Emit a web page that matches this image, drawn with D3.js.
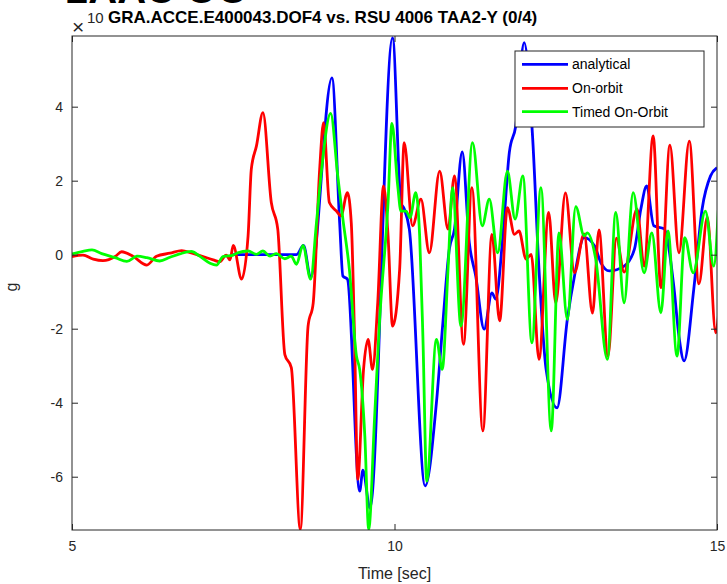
<!DOCTYPE html>
<html><head><meta charset="utf-8">
<script src="https://cdn.jsdelivr.net/npm/d3@7/dist/d3.min.js"></script>
<style>
body{margin:0;background:#fff}
svg{display:block}
text{font-family:"Liberation Sans",Arial,Helvetica,sans-serif;fill:#262626}
</style>
</head><body>
<svg id="c" width="727" height="584"></svg>
<script>
// ---- data ----
const xTicks = [5, 10, 15];
const yTicks = [-6, -4, -2, 0, 2, 4];
const xDomain = [5, 15];
const yDomain = [-7.44, 5.91];
const seriesNames = ["analytical", "On-orbit", "Timed On-Orbit"];
const seriesColors = ["#0000ff", "#ff0000", "#00ff00"];
const titleText = "GRA.ACCE.E400043.DOF4 vs. RSU 4006 TAA2-Y (0/4)";
const xLabel = "Time [sec]";
const yLabel = "g";

const analyticalT = [7.49, 8.48, 8.59, 8.70, 9.03, 9.15, 9.20, 9.27, 9.46, 9.51, 9.62, 9.97, 10.10, 10.15, 10.23, 10.475, 10.65, 10.75, 10.85, 10.93, 11.05, 11.16, 11.26, 11.39, 11.51, 11.57, 11.68, 11.78, 11.88, 12.01, 12.14, 12.24, 12.35, 12.52, 12.68, 12.79, 12.94, 13.10, 13.20, 13.33, 13.56, 13.72, 13.82, 13.91, 14.02, 14.18, 14.33, 14.41, 14.49, 14.64, 14.77, 14.90, 15.0];
const analyticalV = [0, 0, 0.25, -0.62, 4.78, 0.86, -0.58, -0.66, -6.39, -5.82, -6.85, 5.86, 1.41, 1.24, 0.69, -6.25, -4.0, -1.84, 0.15, 0.69, 2.78, 0.32, -0.58, -2.01, -1.03, -1.20, 0.51, 2.76, 3.48, 5.73, 3.21, -0.39, -3.09, -4.14, -1.74, -0.58, 0.46, 0.24, -0.22, -0.44, -0.31, 0.15, 1.24, 1.86, 0.78, 0.70, -0.85, -2.20, -2.87, -0.93, 1.24, 2.13, 2.35];

const onOrbitT = [5.00, 5.17, 5.33, 5.48, 5.67, 5.77, 5.95, 6.16, 6.31, 6.52, 6.70, 6.85, 7.03, 7.19, 7.29, 7.39, 7.45, 7.50, 7.63, 7.73, 7.78, 7.86, 7.96, 8.09, 8.19, 8.30, 8.40, 8.54, 8.66, 8.74, 8.84, 8.90, 8.99, 9.10, 9.17, 9.27, 9.33, 9.38, 9.43, 9.52, 9.59, 9.66, 9.74, 9.83, 9.90, 9.97, 10.08, 10.15, 10.28, 10.41, 10.54, 10.70, 10.83, 10.93, 11.07, 11.20, 11.37, 11.51, 11.63, 11.75, 11.86, 11.93, 12.04, 12.12, 12.24, 12.39, 12.50, 12.65, 12.79, 12.94, 13.07, 13.17, 13.31, 13.44, 13.56, 13.76, 13.87, 14.01, 14.13, 14.27, 14.41, 14.57, 14.72, 14.85, 14.98, 15.03];
const onOrbitV = [-0.05, -0.01, -0.12, -0.16, -0.05, 0.08, -0.05, -0.28, -0.04, 0.04, 0.11, 0.05, -0.05, -0.14, -0.19, -0.01, -0.14, 0.25, -0.66, 0.51, 2.31, 2.94, 3.84, 1.41, 0.69, -2.70, -3.05, -7.42, -1.93, -1.30, 2.31, 3.57, 1.41, 1.18, 1.05, 1.68, 0.86, -2.20, -6.07, -3.10, -2.29, -3.10, -1.30, 1.86, 0.51, -1.93, -0.39, 3.03, 0.78, 1.50, 0.05, 2.26, 0.69, 2.13, -2.42, 1.81, -4.76, 0.55, -1.79, 1.27, 0.55, 0.64, -0.12, 0.01, -2.83, 1.14, -1.31, 1.67, -0.49, 0.56, -1.58, 0.67, -2.74, 0.45, -0.47, 1.24, -0.31, 3.21, -0.89, 2.96, 0.05, 3.07, -0.79, 1.02, -2.11, -1.50];

const timedT = [5.00, 5.17, 5.31, 5.46, 5.67, 5.85, 6.01, 6.16, 6.36, 6.52, 6.67, 6.85, 6.98, 7.14, 7.24, 7.34, 7.50, 7.57, 7.73, 7.86, 7.96, 8.07, 8.17, 8.30, 8.40, 8.48, 8.58, 8.70, 8.79, 8.87, 9.01, 9.12, 9.20, 9.30, 9.41, 9.46, 9.54, 9.60, 9.69, 9.77, 9.90, 9.96, 10.05, 10.10, 10.18, 10.24, 10.33, 10.39, 10.44, 10.50, 10.65, 10.74, 10.83, 10.90, 11.03, 11.21, 11.36, 11.47, 11.60, 11.75, 11.87, 11.99, 12.13, 12.27, 12.43, 12.55, 12.68, 12.81, 12.94, 12.99, 13.12, 13.30, 13.43, 13.56, 13.70, 13.87, 13.99, 14.13, 14.24, 14.38, 14.50, 14.63, 14.82, 14.95, 15.02];
const timedV = [0.02, 0.09, 0.13, 0.03, -0.08, -0.18, -0.04, -0.08, -0.17, -0.07, 0.02, 0.09, -0.04, -0.23, -0.28, -0.05, -0.01, 0.05, 0.10, 0.01, 0.10, -0.04, 0.03, -0.11, -0.04, -0.26, 0.25, -0.66, 0.86, 2.31, 3.82, 2.13, 0.96, -0.39, -2.74, -3.10, -4.90, -7.42, -4.45, -1.75, 1.41, 3.55, 1.86, 1.18, 1.18, 1.00, 1.68, 0.51, -2.20, -6.12, -2.29, -3.10, -0.39, 1.81, -1.93, 3.03, 0.78, 1.50, 0.05, 2.26, 0.96, 2.13, -2.38, 1.81, -4.76, 0.59, -1.75, 1.30, 0.51, 0.59, -0.12, -2.83, 1.14, -1.30, 1.68, -0.49, 0.59, -1.57, 0.64, -2.74, 0.46, -0.49, 1.18, -0.31, 1.20];

// ---- chart ----
const svg = d3.select("#c");
const L = 72, R = 717, T = 36, B = 530;
const x = d3.scaleLinear().domain(xDomain).range([L, R]);
const y = d3.scaleLinear().domain(yDomain).range([B, T]);
const axisColor = "#262626";
const lineW = 2.8;

svg.append("rect").attr("width", 727).attr("height", 584).attr("fill", "#fff");

// big text clipped at the top edge of the figure (as in the reference)
svg.append("text").attr("x", 66).attr("y", 3).attr("font-size", 40).attr("font-weight", "bold")
  .style("fill", "#000").text("2AAC OO");

svg.append("clipPath").attr("id", "clip").append("rect")
  .attr("x", L).attr("y", T).attr("width", R - L).attr("height", B - T);

const series = [
  {t: analyticalT, v: analyticalV},
  {t: onOrbitT, v: onOrbitV},
  {t: timedT, v: timedV}
];
const line = d3.line().x(d => x(d[0])).y(d => y(d[1])).curve(d3.curveMonotoneX);
const plot = svg.append("g").attr("clip-path", "url(#clip)");
series.forEach((s, i) => {
  const pts = s.t.map((t, k) => [t, s.v[k]]);
  plot.append("path").attr("d", line(pts)).attr("fill", "none")
    .attr("stroke", seriesColors[i]).attr("stroke-width", lineW)
    .attr("stroke-linejoin", "round");
});

function styleAxis(g) {
  g.select(".domain").remove();
  g.selectAll(".tick line").attr("stroke", axisColor);
  g.selectAll(".tick text").style("fill", axisColor).attr("font-size", 14)
    .attr("font-family", '"Liberation Sans",Arial,sans-serif');
}
svg.append("g").attr("transform", `translate(0,${B})`)
  .call(d3.axisBottom(x).tickValues(xTicks).tickSize(-6).tickPadding(11).tickFormat(d => String(d)))
  .call(styleAxis);
svg.append("g").attr("transform", `translate(0,${T})`)
  .call(d3.axisTop(x).tickValues(xTicks).tickSize(-6).tickFormat(""))
  .call(styleAxis);
svg.append("g").attr("transform", `translate(${L},0)`)
  .call(d3.axisLeft(y).tickValues(yTicks).tickSize(-6).tickPadding(9).tickFormat(d => String(d)))
  .call(styleAxis);
svg.append("g").attr("transform", `translate(${R},0)`)
  .call(d3.axisRight(y).tickValues(yTicks).tickSize(-6).tickFormat(""))
  .call(styleAxis);

svg.append("rect").attr("x", L).attr("y", T).attr("width", R - L).attr("height", B - T)
  .attr("fill", "none").attr("stroke", axisColor).attr("stroke-width", 1);

// labels
svg.append("text").attr("x", (L + R) / 2).attr("y", 579).attr("text-anchor", "middle")
  .attr("font-size", 16).text(xLabel);
svg.append("text").attr("transform", "translate(17,287) rotate(-90)").attr("text-anchor", "middle")
  .attr("font-size", 16).text(yLabel);

// exponent marker
svg.append("text").attr("x", 72).attr("y", 34).attr("font-size", 21).text("\u00d7");
svg.append("text").attr("x", 87).attr("y", 23).attr("font-size", 15).text("10");
// title
svg.append("text").attr("x", 108).attr("y", 23).attr("font-size", 17).attr("font-weight", "bold")
  .style("fill", "#000").text(titleText);

// legend
const lg = svg.append("g");
lg.append("rect").attr("x", 515).attr("y", 51).attr("width", 189).attr("height", 76)
  .attr("fill", "#fff").attr("stroke", axisColor).attr("stroke-width", 1);
const rowsY = [64.3, 88.3, 111.7];
seriesNames.forEach((n, i) => {
  lg.append("line").attr("x1", 522).attr("x2", 568).attr("y1", rowsY[i]).attr("y2", rowsY[i])
    .attr("stroke", seriesColors[i]).attr("stroke-width", lineW);
  lg.append("text").attr("x", 572).attr("y", rowsY[i] + 5).attr("font-size", 14)
    .style("fill", "#000").text(n);
});
</script>
</body></html>
